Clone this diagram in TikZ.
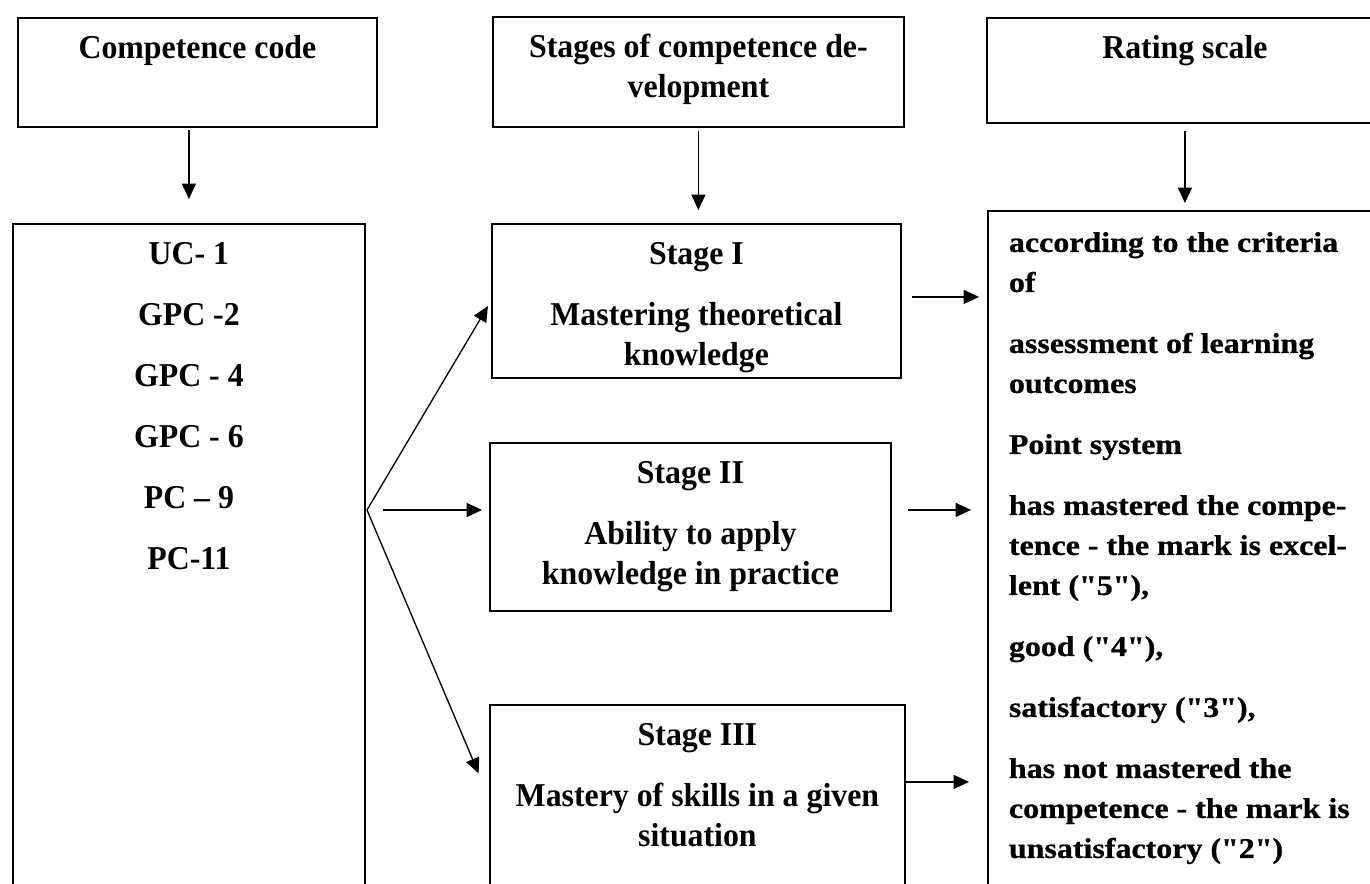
\documentclass[tikz,border=0pt]{standalone}
\usepackage{fontspec}
\setmainfont{Liberation Serif}
\newfontfamily\leftfont[FakeStretch=0.955]{Liberation Serif}
\newfontfamily\ratefont[FakeStretch=1.12, FakeBold=0.8]{Liberation Serif}
\usetikzlibrary{arrows.meta}

\newcommand{\boxstrut}{\rule{0pt}{30.75pt}}
\newcommand{\pgap}{\\[15.75pt]}
\newcommand{\boxtext}[3]{\parbox[t][#2][t]{#1}{\centering\boxstrut #3}}

\begin{document}
\begin{tikzpicture}[x=0.75pt,y=0.75pt,yscale=-1,
  box/.style={draw, line width=1.4pt, inner sep=0pt, anchor=north west,
    font=\leftfont\bfseries\fontsize{25}{30}\selectfont},
  ratebox/.style={box, font=\ratefont\bfseries\fontsize{21.4}{30}\selectfont},
  arr/.style={line width=1pt, -{Triangle[length=11.5pt,width=10.5pt]}}]
\useasboundingbox (0,0) rectangle (1370,884);
\clip (0,0) rectangle (1370,884);

%headers
\node[box] (codehead) at (17,17) {\boxtext{269.25pt}{81.75pt}{Competence code}};
\node[box] (stagehead) at (492,16) {\boxtext{308.25pt}{82.5pt}{Stages of competence de-\\velopment}};
\node[box] (ratehead) at (986,17) {\boxtext{297pt}{78.75pt}{Rating scale}};

%competence codes
\node[box] (codebox) at (12,223) {\boxtext{264pt}{507.75pt}{UC- 1\pgap GPC -2\pgap GPC - 4\pgap GPC - 6\pgap PC – 9\pgap PC-11}};

%stages
\node[box] (stage1) at (491,223) {\boxtext{306.75pt}{115.5pt}{Stage I\pgap Mastering theoretical\\knowledge}};
\node[box] (stage2) at (489,442) {\boxtext{300.75pt}{126pt}{Stage II\pgap Ability to apply\\knowledge in practice}};
\node[box] (stage3) at (489,704) {\boxtext{311.25pt}{139.5pt}{Stage III\pgap Mastery of skills in a given\\situation}};

%rating scale
\node[ratebox] (ratebox) at (987,210) {\parbox[t][517.5pt][t]{309.75pt}{\raggedright\leftskip=15.75pt\boxstrut
according to the criteria\\of\pgap
assessment of learning\\outcomes\pgap
Point system\pgap
has mastered the compe-\\tence - the mark is excel-\\lent ("5"),\pgap
good ("4"),\pgap
satisfactory ("3"),\pgap
has not mastered the\\competence - the mark is\\unsatisfactory ("2")}};

%arrows down
\draw[arr, shorten <=1.5pt, shorten >=18pt] (codehead.south -| codebox.north) -- (codebox.north);
\draw[arr, shorten <=2.25pt, shorten >=9.75pt] (stagehead.south) -- (stagehead.south |- stage1.north);
\draw[arr, shorten <=5.25pt, shorten >=5.25pt] (ratehead.south) -- (ratehead.south |- ratebox.north);

%fork
\coordinate (fork) at (367,510);
\draw[arr, shorten >=4.5pt] (fork) -- (stage1.west);
\draw[arr, shorten >=5.25pt] ([xshift=12pt]fork) -- (fork -| stage2.west);
\draw[arr, shorten >=20pt] (fork) -- (stage3.west);

%arrows right
\draw[arr, shorten <=7.5pt, shorten >=6pt] ([yshift=-3pt]stage1.east) -- ([yshift=-3pt]stage1.east -| ratebox.west);
\draw[arr, shorten <=12pt, shorten >=12pt] ([yshift=-12.75pt]stage2.east) -- ([yshift=-12.75pt]stage2.east -| ratebox.west);
\draw[arr, shorten >=13.5pt] ([yshift=-12pt]stage3.east) -- ([yshift=-12pt]stage3.east -| ratebox.west);

\end{tikzpicture}
\end{document}
